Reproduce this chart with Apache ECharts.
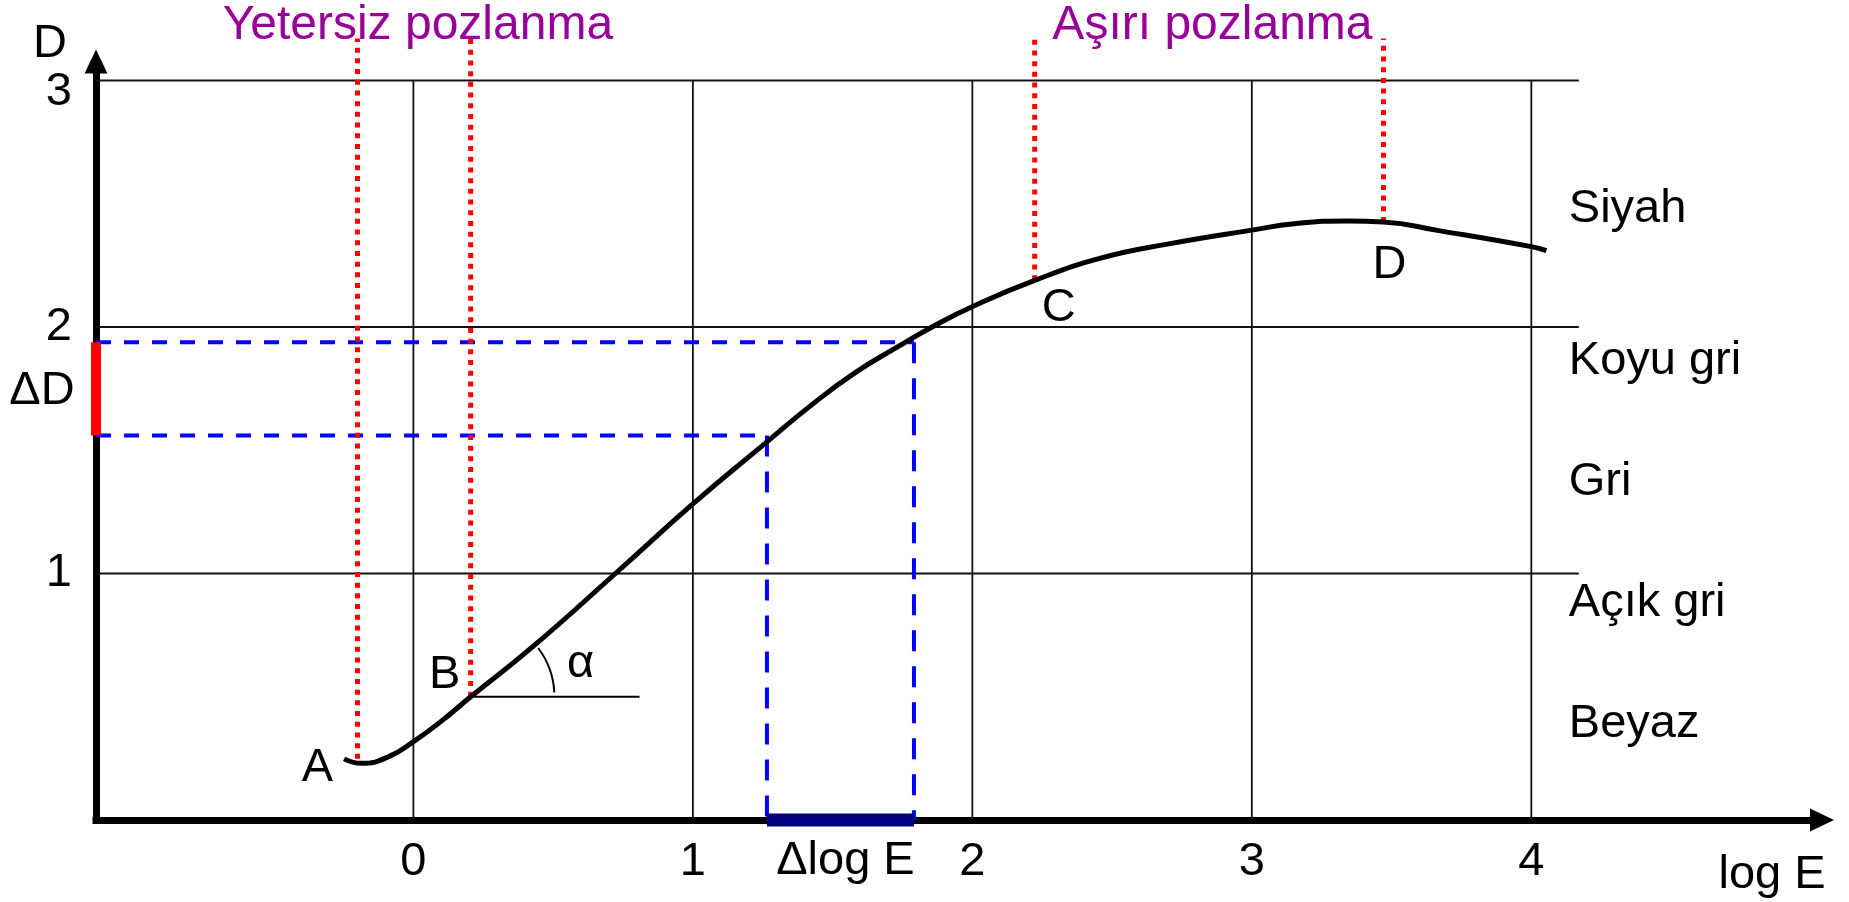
<!DOCTYPE html>
<html>
<head>
<meta charset="utf-8">
<title>Karakteristik eğri</title>
<script src="https://cdn.jsdelivr.net/npm/echarts@6/dist/echarts.min.js"></script>
<style>
  html, body { margin: 0; padding: 0; background: #fff; }
  #chart { width: 1849px; height: 902px; }
</style>
</head>
<body>
<div id="chart"></div>
<script>
// characteristic curve (log E, D)
const curveLogE = [-0.248, -0.185, -0.09, 0.003, 0.1, 0.205, 0.426, 0.723, 1.0, 1.265, 1.415, 1.577, 1.74, 1.856,
  2.001, 2.223, 2.459, 2.703, 3.0, 3.152, 3.346, 3.471, 3.669, 4.0, 4.054];
const curveD = [0.248, 0.23, 0.256, 0.32, 0.401, 0.5, 0.702, 1.0, 1.282, 1.534, 1.675, 1.812, 1.924, 2.0,
  2.083, 2.189, 2.279, 2.337, 2.393, 2.419, 2.43, 2.426, 2.391, 2.326, 2.31];

const xTicks = [0, 1, 2, 3, 4];
const yTicks = [1, 2, 3];
const gridEndLogE = 4.17;

// A, B, C, D points and the dotted guides above them
const pointNames = ['A', 'B', 'C', 'D'];
const pointLogE = [-0.2, 0.205, 2.223, 3.471];
const pointD = [0.248, 0.5, 2.19, 2.426];
const guideTopD = 3.17;

// gradient construction
const deltaLogE = [1.265, 1.791];
const deltaD = [1.56, 1.938];
const tangentLogE = [0.215, 0.809];
const tangentD = 0.5;

// tone names on the right
const toneNames = ['Siyah', 'Koyu gri', 'Gri', 'Açık gri', 'Beyaz'];
const toneD = [2.48, 1.86, 1.37, 0.88, 0.39];
const toneLogE = 4.134;

const regionNames = ['Yetersiz pozlanma', 'Aşırı pozlanma'];
const regionLogE = [0.016, 2.859];
const regionD = 3.22;

const xMin = -1.1356, xMax = 5.04, yMax = 3.077;
const FONT = 'Liberation Sans, Arial, sans-serif';
const FS = 47;

function seg(pts, color, width, type, z) {
  return {
    type: 'line', data: pts, symbol: 'none', silent: true, clip: false,
    animation: false, z: z || 2,
    lineStyle: { color: color, width: width, type: type || 'solid', cap: 'butt' }
  };
}

function note(name, x, y, label) {
  return { name: name, value: [x, y], label: label };
}

const series = [];
// grid lines
xTicks.forEach(function (t) {
  series.push(seg([[t, 0], [t, yTicks[yTicks.length - 1]]], '#111', 1.8, 'solid', 1));
});
yTicks.forEach(function (d) {
  series.push(seg([[xMin, d], [gridEndLogE, d]], '#111', 1.8, 'solid', 1));
});
// blue dashed projections
series.push(seg([[xMin, deltaD[1]], [deltaLogE[1], deltaD[1]]], '#0000ff', 4, [15, 13], 3));
series.push(seg([[xMin, deltaD[0]], [deltaLogE[0], deltaD[0]]], '#0000ff', 4, [15, 13], 3));
series.push(seg([[deltaLogE[1], deltaD[1]], [deltaLogE[1], 0]], '#0000ff', 4, [21, 15], 3));
series.push(seg([[deltaLogE[0], deltaD[0]], [deltaLogE[0], 0]], '#0000ff', 4, [21, 15], 3));
// red dotted guides
pointLogE.forEach(function (x, i) {
  series.push(seg([[x, pointD[i]], [x, guideTopD]], '#ff0000', 5, [5, 5.7], 4));
});
// tangent at B
series.push(seg([[tangentLogE[0], tangentD], [tangentLogE[1], tangentD]], '#000', 2, 'solid', 4));
// curve
series.push({
  type: 'line', data: curveLogE.map(function (x, i) { return [x, curveD[i]]; }),
  symbol: 'none', smooth: 0.5, silent: true, clip: false, z: 5,
  lineStyle: { color: '#000', width: 5 }
});
// delta bars on the axes
series.push(seg([[xMin, deltaD[0]], [xMin, deltaD[1]]], '#ff0000', 10, 'solid', 6));
series.push(seg([[deltaLogE[0], 0], [deltaLogE[1], 0]], '#000080', 13, 'solid', 6));
// angle arc at B
series.push({
  type: 'custom', silent: true, clip: false, z: 5,
  data: [[tangentLogE[0], tangentD]],
  renderItem: function (params, api) {
    const c = api.coord([api.value(0), api.value(1)]);
    return {
      type: 'arc',
      shape: { cx: c[0], cy: c[1], r: 81, startAngle: -37 * Math.PI / 180, endAngle: -3 * Math.PI / 180, clockwise: true },
      style: { stroke: '#000', lineWidth: 2, fill: 'none' }
    };
  }
});

// text labels
const notes = [];
const pointOffsets = [[-40, 9], [-26, -22], [24, 28], [6, 43]];
pointNames.forEach(function (n, i) {
  notes.push(note(n, pointLogE[i], pointD[i], { position: 'inside', offset: pointOffsets[i] }));
});
notes.push(note('α', tangentLogE[0], tangentD, { position: 'inside', offset: [107, -33] }));
notes.push(note('ΔD', xMin, (deltaD[0] + deltaD[1]) / 2, { position: 'inside', offset: [-54, 2] }));
notes.push(note('Δlog E', (deltaLogE[0] + deltaLogE[1]) / 2, 0, { position: 'inside', offset: [5, 41] }));
toneNames.forEach(function (n, i) {
  notes.push(note(n, toneLogE, toneD[i], { position: 'right', distance: 0 }));
});
regionNames.forEach(function (n, i) {
  notes.push(note(n, regionLogE[i], regionD, { position: 'inside', color: '#990099', fontSize: 48 }));
});
series.push({
  type: 'scatter', data: notes, symbolSize: 0, silent: true, clip: false, z: 7,
  itemStyle: { opacity: 1 },
  label: { show: true, formatter: '{b}', fontSize: FS, color: '#000', opacity: 1, fontFamily: FONT }
});

const chart = echarts.init(document.getElementById('chart'), null, { renderer: 'canvas' });
chart.setOption({
  backgroundColor: '#fff',
  animation: false,
  grid: { left: 96, right: 27, top: 61.5, bottom: 82, outerBoundsMode: 'none' },
  xAxis: {
    type: 'value', min: xMin, max: xMax,
    name: '{n|log E}', nameLocation: 'end', nameGap: 0, nameMoveOverlap: false,
    nameTextStyle: {
      align: 'center', verticalAlign: 'middle', padding: [0, 100, 0, 0],
      rich: { n: { fontSize: FS, color: '#000', fontFamily: FONT, padding: [110, 0, 0, 0] } }
    },
    axisLine: { show: true, onZero: false, symbol: ['none', 'triangle'], symbolSize: [23, 24],
      lineStyle: { color: '#000', width: 7, cap: 'square' } },
    axisTick: { show: false },
    splitLine: { show: false },
    axisLabel: { customValues: xTicks, fontSize: FS, color: '#000', fontFamily: FONT, margin: 19 }
  },
  yAxis: {
    type: 'value', min: 0, max: yMax,
    name: 'D', nameLocation: 'end', nameGap: 17.5, nameMoveOverlap: false,
    nameTextStyle: { fontSize: FS, color: '#000', fontFamily: FONT, align: 'center', verticalAlign: 'middle', padding: [0, 92, 0, 0] },
    axisLine: { show: true, onZero: false, symbol: ['none', 'triangle'], symbolSize: [23, 24],
      lineStyle: { color: '#000', width: 7, cap: 'square' } },
    axisTick: { show: false },
    splitLine: { show: false },
    axisLabel: {
      customValues: yTicks, fontSize: FS, color: '#000', fontFamily: FONT, margin: 24,
      formatter: function (v) { return v === 3 ? '{low|3}' : String(v); },
      rich: { low: { fontSize: FS, color: '#000', fontFamily: FONT, padding: [24, 0, 0, 0] } }
    }
  },
  series: series
});
</script>
</body>
</html>
